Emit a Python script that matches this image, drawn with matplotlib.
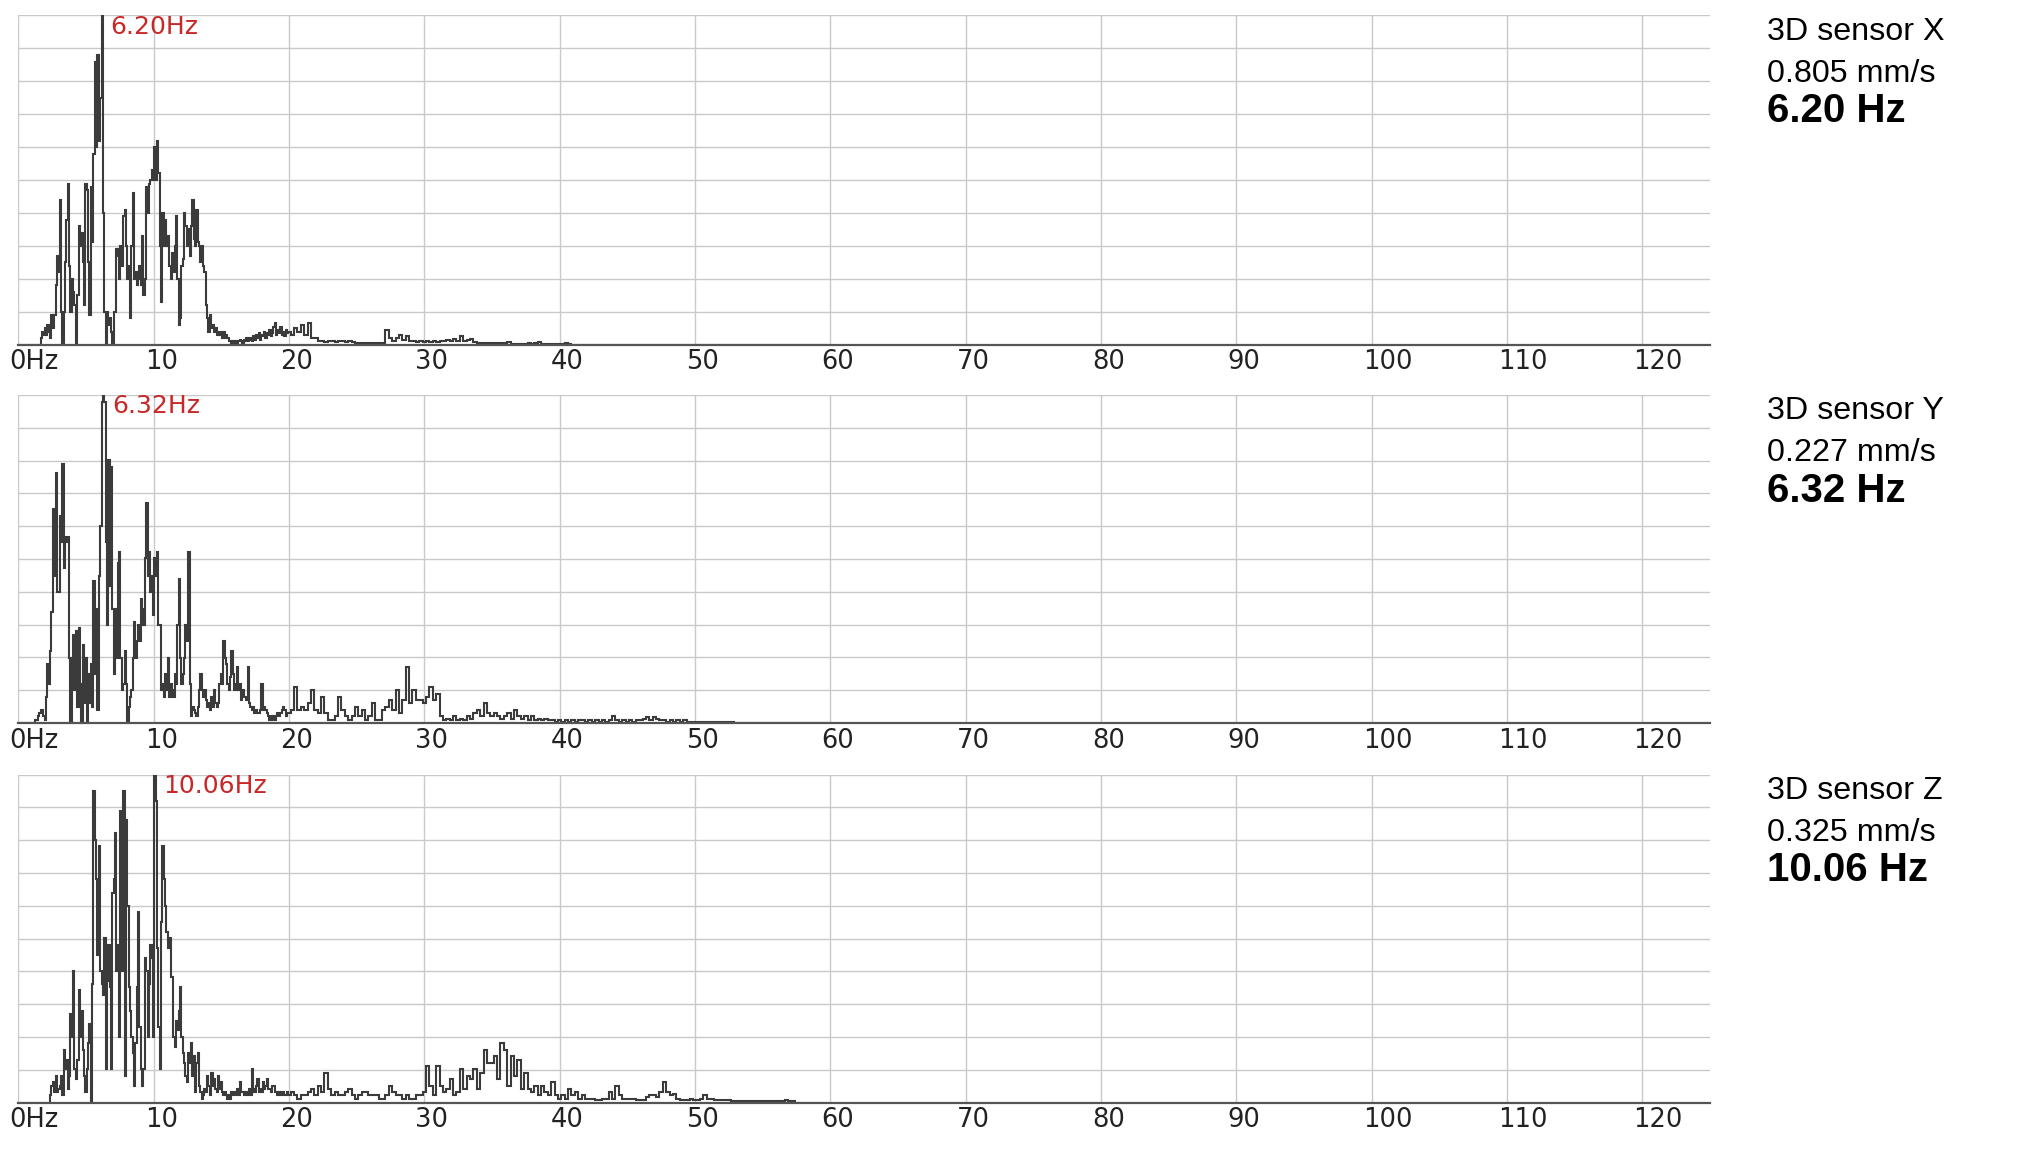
import numpy as np
import matplotlib
matplotlib.use("Agg")
import matplotlib.pyplot as plt
import matplotlib.transforms as mtransforms

# ---------------- data (velocity amplitude in µm/s) ----------------
sensor_names = ["3D sensor X", "3D sensor Y", "3D sensor Z"]
peak_amp_mm_s = [0.805, 0.227, 0.325]
peak_freq_hz = [6.20, 6.32, 10.06]

fine_step_hz = 0.1     # bins 0.0 .. 19.9 Hz
tail_start_hz = 20.0
tail_step_hz = 0.25    # bins 20.0 .. 59.75 Hz
tail_len = 160

x_fine = [
    0, 0, 0, 0, 0, 0, 0, 0, 0, 0,
    0, 0, 0, 0, 0, 0, 0, 16, 32, 24,
    40, 24, 48, 32, 16, 72, 40, 72, 145, 217,
    177, 354, 80, 0, 80, 201, 306, 394, 193, 80,
    161, 129, 97, 0, 121, 290, 241, 274, 201, 97,
    394, 378, 201, 72, 386, 250, 467, 692, 483, 708,
    499, 604, 805, 322, 80, 0, 80, 48, 64, 32,
    0, 80, 80, 233, 217, 161, 241, 193, 314, 330,
    241, 161, 193, 64, 241, 370, 161, 177, 145, 161,
    193, 145, 266, 121, 161, 386, 322, 394, 402, 427,
    402, 483, 402, 499, 419, 241, 105, 322, 241, 306,
    241, 266, 193, 161, 225, 177, 241, 314, 161, 48,
    64, 193, 209, 322, 290, 241, 282, 217, 290, 354,
    258, 241, 330, 250, 241, 201, 241, 193, 177, 97,
    64, 32, 72, 40, 48, 32, 40, 24, 32, 24,
    32, 16, 32, 16, 24, 16, 8, 8, 4, 8,
    4, 8, 4, 8, 12, 8, 4, 12, 8, 16,
    8, 12, 16, 8, 20, 12, 24, 16, 28, 12,
    24, 20, 32, 16, 28, 24, 36, 20, 28, 44,
    52, 24, 36, 28, 44, 24, 32, 20, 36, 28,
]
x_tail = [
    32, 24, 40, 32, 48, 24, 54, 16, 16, 8,
    10, 6, 10, 8, 6, 10, 8, 6, 8, 6,
    4, 4, 4, 4, 4, 4, 4, 4, 4, 36,
    16, 10, 16, 24, 12, 20, 10, 8, 6, 10,
    6, 8, 6, 10, 6, 8, 10, 12, 8, 14,
    10, 20, 10, 12, 14, 6, 3, 3, 3, 3,
    3, 3, 3, 3, 3, 6, 2, 2, 2, 2,
    2, 5, 2, 3, 6, 2, 2, 2, 2, 2,
    2, 2, 5, 2, 0, 0, 0, 0, 0, 0,
]

y_fine = [
    0, 0, 0, 0, 0, 0, 0, 0, 0, 0,
    0, 0, 0, 2, 2, 5, 7, 9, 9, 5,
    2, 18, 41, 27, 50, 77, 148, 102, 173, 91,
    91, 143, 125, 179, 107, 129, 125, 129, 45, 0,
    45, 61, 23, 64, 11, 66, 27, 0, 54, 14,
    45, 0, 34, 14, 41, 11, 98, 34, 79, 9,
    102, 136, 222, 227, 222, 125, 68, 182, 95, 177,
    79, 34, 79, 45, 111, 118, 45, 23, 27, 50,
    27, 0, 11, 18, 23, 45, 70, 45, 57, 68,
    57, 86, 79, 68, 114, 152, 102, 118, 91, 102,
    75, 114, 102, 118, 68, 68, 23, 27, 18, 34,
    23, 45, 18, 27, 23, 18, 34, 27, 68, 100,
    45, 27, 34, 45, 68, 57, 118, 27, 5, 11,
    9, 7, 5, 11, 23, 34, 23, 18, 23, 16,
    11, 14, 9, 18, 11, 23, 14, 11, 14, 27,
    34, 27, 57, 45, 41, 27, 23, 32, 50, 34,
    23, 27, 39, 23, 27, 16, 23, 18, 18, 16,
    39, 14, 11, 9, 11, 7, 9, 7, 7, 9,
    27, 9, 11, 9, 7, 5, 2, 5, 2, 5,
    2, 5, 7, 5, 7, 9, 11, 9, 5, 7,
]
y_tail = [
    7, 9, 25, 9, 11, 9, 14, 23, 9, 7,
    18, 7, 2, 2, 5, 18, 9, 5, 2, 5,
    11, 5, 9, 2, 5, 14, 2, 2, 9, 11,
    16, 9, 23, 7, 16, 39, 14, 23, 16, 16,
    14, 18, 25, 16, 20, 5, 2, 3, 2, 5,
    2, 3, 2, 5, 3, 7, 9, 5, 14, 7,
    5, 7, 5, 3, 5, 7, 3, 9, 5, 3,
    5, 2, 5, 2, 3, 2, 3, 2, 2, 1,
    2, 1, 2, 1, 2, 1, 2, 2, 1, 2,
    1, 2, 1, 2, 1, 2, 5, 2, 1, 2,
    1, 2, 1, 2, 2, 3, 4, 2, 4, 3,
    2, 2, 1, 2, 1, 2, 1, 2, 1, 1,
    1, 1, 1, 1, 1, 1, 1, 1, 1, 1,
    1, 1, 0, 0, 0, 0, 0, 0, 0, 0,
]

z_fine = [
    0, 0, 0, 0, 0, 0, 0, 0, 0, 0,
    0, 0, 0, 0, 0, 0, 0, 0, 0, 0,
    0, 0, 0, 0, 7, 16, 20, 10, 26, 10,
    13, 16, 26, 7, 52, 33, 42, 13, 26, 88,
    65, 130, 33, 23, 42, 111, 65, 91, 52, 26,
    10, 33, 59, 78, 0, 117, 309, 260, 221, 146,
    254, 130, 117, 107, 163, 33, 120, 156, 114, 33,
    208, 221, 267, 130, 156, 65, 289, 130, 309, 26,
    280, 195, 114, 91, 65, 49, 16, 59, 114, 189,
    75, 33, 16, 33, 143, 130, 65, 117, 156, 143,
    65, 325, 299, 153, 75, 33, 179, 254, 221, 195,
    169, 153, 163, 124, 124, 65, 55, 81, 72, 91,
    114, 65, 49, 39, 26, 20, 49, 39, 59, 26,
    46, 10, 39, 49, 16, 10, 3, 7, 13, 10,
    26, 16, 7, 29, 16, 23, 13, 10, 26, 13,
    20, 10, 7, 10, 7, 3, 7, 3, 10, 7,
    10, 7, 13, 7, 20, 10, 10, 7, 10, 7,
    10, 13, 7, 33, 13, 10, 16, 23, 10, 13,
    10, 20, 13, 16, 23, 13, 13, 10, 16, 16,
    10, 10, 7, 10, 7, 10, 10, 7, 7, 10,
]
z_tail = [
    7, 10, 7, 3, 7, 7, 10, 13, 7, 16,
    10, 29, 13, 7, 10, 7, 7, 10, 13, 7,
    3, 7, 10, 10, 7, 7, 7, 3, 3, 7,
    16, 10, 7, 7, 3, 7, 3, 3, 7, 7,
    10, 36, 16, 7, 36, 16, 10, 13, 23, 7,
    10, 33, 13, 26, 23, 33, 13, 29, 52, 39,
    39, 46, 23, 59, 52, 16, 46, 26, 42, 13,
    29, 13, 10, 16, 7, 16, 10, 7, 20, 7,
    3, 7, 3, 13, 7, 10, 3, 7, 3, 3,
    3, 2, 2, 3, 3, 10, 3, 16, 7, 3,
    3, 3, 3, 2, 2, 2, 5, 7, 7, 5,
    10, 20, 10, 7, 8, 3, 2, 2, 2, 3,
    2, 2, 3, 7, 3, 3, 2, 2, 2, 2,
    2, 1, 1, 1, 1, 1, 1, 1, 1, 1,
    1, 1, 1, 1, 1, 1, 1, 2, 1, 1,
]

x_ticks = list(range(0, 121, 10))
x_tick_labels = ["0Hz"] + [str(t) for t in x_ticks[1:]]
x_max_hz = 125

# ---------------- figure ----------------
W, H = 2024, 1176
fig = plt.figure(figsize=(W / 100, H / 100), dpi=100)
fig.patch.set_facecolor("white")

left_px, right_px = 18.3, 1710
tops_px = [15.5, 395.0, 774.5]
bottoms_px = [344.6, 723.0, 1102.5]

fines = [x_fine, y_fine, z_fine]
tails = [x_tail, y_tail, z_tail]

grid_col = "#c9c9c9"
line_col = "#3b3b3b"
red = "#c82828"

for i in range(3):
    top, bot = tops_px[i], bottoms_px[i]
    ax = fig.add_axes([left_px / W, 1 - bot / H, (right_px - left_px) / W, (bot - top) / H])

    fine = np.array(fines[i], dtype=float)
    tail = np.array(tails[i] + [0] * (tail_len - len(tails[i])), dtype=float)
    f_fine = np.arange(len(fine)) * fine_step_hz
    f_tail = tail_start_hz + np.arange(len(tail)) * tail_step_hz
    freqs = np.concatenate([f_fine, f_tail])
    amps = np.concatenate([fine, tail]) / 1000.0  # mm/s

    ax.plot(freqs, amps, drawstyle="steps-mid", color=line_col, lw=1.5, zorder=3,
            solid_joinstyle="miter")

    pk = peak_amp_mm_s[i]
    ax.set_xlim(0, x_max_hz)
    ax.set_ylim(0, pk)
    ax.set_xticks(x_ticks)
    ax.set_xticklabels(x_tick_labels)
    ax.set_yticks(np.linspace(0, pk, 11))
    ax.set_yticklabels([])
    ax.grid(True, color=grid_col, lw=1.0, zorder=0)
    ax.set_axisbelow(True)
    for s in ["top", "right", "left"]:
        ax.spines[s].set_visible(False)
    ax.spines["bottom"].set_color("#555555")
    ax.spines["bottom"].set_linewidth(1.6)
    ax.spines["bottom"].set_zorder(4)
    ax.tick_params(axis="both", length=0)
    ax.tick_params(axis="x", pad=3.5, labelsize=18.5, labelcolor="#222222")

    offset = mtransforms.ScaledTranslation(-9 / 100, 0, fig.dpi_scale_trans)
    for lab in ax.get_xticklabels():
        lab.set_horizontalalignment("left")
        lab.set_transform(lab.get_transform() + offset)

    ax.annotate(f"{peak_freq_hz[i]:.2f}Hz", xy=(peak_freq_hz[i], 1.0),
                xycoords=("data", "axes fraction"), xytext=(6, 0.5),
                textcoords="offset points", ha="left", va="top",
                color=red, fontsize=18, family="DejaVu Sans")

    # right-hand info block
    tx = 1767 / W
    fig.text(tx, 1 - (top + 24.5) / H, sensor_names[i], ha="left", va="baseline",
             fontsize=23.2, family="Liberation Sans", color="black")
    fig.text(tx, 1 - (top + 66.2) / H, f"{pk:.3f} mm/s", ha="left", va="baseline",
             fontsize=23.2, family="Liberation Sans", color="black")
    fig.text(tx, 1 - (top + 106.5) / H, f"{peak_freq_hz[i]:.2f} Hz", ha="left",
             va="baseline", fontsize=29, fontweight="bold",
             family="Liberation Sans", color="black")

fig.savefig("out.png", dpi=100, facecolor="white")
